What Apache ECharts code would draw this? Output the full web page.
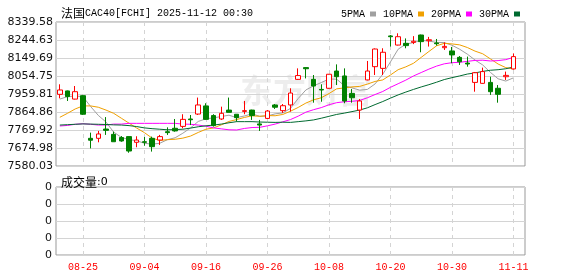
<!DOCTYPE html>
<html><head><meta charset="utf-8">
<script src="https://cdn.jsdelivr.net/npm/echarts@6/dist/echarts.min.js"></script>
<style>html,body{margin:0;padding:0;background:#fff}#c{width:578px;height:276px}</style>
</head><body><div id="c"></div>
<script>
const dates = ['08-20','08-21','08-22','08-25','08-26','08-27','08-28','08-29','09-01','09-02','09-03','09-04','09-05','09-08','09-09','09-10','09-11','09-12','09-15','09-16','09-17','09-18','09-19','09-22','09-23','09-24','09-25','09-26','09-29','09-30','10-01','10-02','10-03','10-06','10-07','10-08','10-09','10-10','10-13','10-14','10-15','10-16','10-17','10-20','10-21','10-22','10-23','10-24','10-27','10-28','10-29','10-30','10-31','11-03','11-04','11-05','11-06','11-07','11-10','11-11','11-12'];
const opens  = [7958,7976,7933,7951,7726,7726,7775,7747,7730,7735,7705,7708,7726,7717,7761,7779,7789,7828,7854,7897,7846,7828,7875,7853,7868,7875,7802,7831,7902,7872,7902,8037,8099,8037,7984,7990,8081,8055,7963,7875,8034,8104,8095,8266,8218,8227,8232,8271,8241,8229,8204,8187,8153,8123,8021,8016,8021,7990,8051,8092];
const closes = [7981,7946,7972,7853,7716,7749,7768,7708,7712,7659,7717,7705,7682,7735,7756,7765,7826,7824,7902,7826,7793,7858,7863,7835,7872,7846,7796,7870,7890,7898,7965,8057,8093,8002,7981,8064,8051,7923,7940,7923,8081,8197,8180,8262,8262,8215,8238,8236,8246,8225,8211,8166,8130,8118,8072,8078,7972,7958,8058,8157];
const lows   = [7937,7923,7931,7849,7673,7705,7744,7708,7708,7650,7679,7687,7656,7691,7744,7761,7779,7796,7849,7823,7788,7823,7863,7814,7853,7823,7765,7828,7881,7860,7867,8034,8042,7914,7919,7988,8007,7911,7914,7828,8032,8060,8060,8210,8216,8201,8223,8180,8210,8215,8192,8122,8113,8104,7972,8014,7955,7914,8034,8089];
const highs  = [8011,7978,8002,7955,7756,7765,7838,7761,7738,7736,7737,7733,7735,7744,7784,7828,7853,7849,7941,7911,7853,7893,7941,7853,7923,7877,7823,7875,7907,7907,7990,8095,8101,8060,8011,8065,8116,8095,7986,7933,8134,8200,8201,8271,8280,8253,8265,8273,8261,8250,8232,8208,8160,8157,8076,8099,8051,8007,8078,8174];
const ma5  = [7933,7946,7949,7946,7894,7847,7812,7759,7731,7719,7713,7700,7695,7700,7719,7729,7753,7781,7815,7829,7834,7841,7848,7835,7844,7855,7842,7844,7855,7860,7884,7936,7981,8003,8020,8039,8038,8004,7992,7980,7984,8013,8064,8129,8196,8223,8231,8243,8239,8232,8231,8217,8196,8170,8139,8113,8074,8040,8028,8045];
const ma10 = [7837,7858,7881,7897,7897,7890,7875,7858,7832,7806,7780,7756,7727,7715,7719,7721,7727,7738,7757,7774,7781,7797,7815,7825,7836,7845,7842,7846,7845,7852,7869,7889,7912,7929,7940,7962,7987,7992,7997,8000,8012,8026,8034,8060,8088,8103,8122,8153,8184,8214,8227,8224,8219,8205,8186,8172,8145,8118,8099,8092];
const ma20 = [7791,7794,7800,7803,7800,7796,7796,7801,7801,7805,7805,7805,7805,7805,7805,7805,7801,7800,7796,7790,7781,7776,7771,7770,7778,7783,7784,7792,7801,7813,7825,7843,7864,7877,7888,7903,7914,7919,7921,7926,7940,7957,7973,7995,8014,8033,8055,8073,8091,8107,8119,8125,8127,8132,8137,8138,8134,8136,8141,8153];
const ma30 = [7796,7798,7800,7802,7801,7800,7799,7797,7796,7793,7788,7781,7777,7774,7771,7772,7774,7780,7787,7792,7796,7801,7808,7814,7814,7814,7812,7811,7810,7811,7810,7814,7818,7823,7832,7842,7852,7859,7867,7875,7887,7904,7920,7938,7955,7970,7984,7997,8009,8022,8036,8046,8055,8065,8071,8079,8085,8088,8093,8102];
const volumes = [0,0,0,0,0,0,0,0,0,0,0,0,0,0,0,0,0,0,0,0,0,0,0,0,0,0,0,0,0,0,0,0,0,0,0,0,0,0,0,0,0,0,0,0,0,0,0,0,0,0,0,0,0,0,0,0,0,0,0,0];
const priceTicks = [7580.03,7674.98,7769.92,7864.86,7959.81,8054.75,8149.69,8244.63,8339.58];
const volTickLabels = ['0','0','0','0','0'];
const maNames = ['5PMA','10PMA','20PMA','30PMA'];
const titleCn = '法国';
const titleRest = 'CAC40[FCHI] 2025-11-12 00:30';
const volCn = '成交量';
const volRest = ':0';

const chart = echarts.init(document.getElementById('c'), null, {renderer:'canvas'});
const maColors = ['#a0a0a0','#f0a000','#ff00ff','#006a30'];
const candleData = opens.map((o,i)=>[o, closes[i], lows[i], highs[i]]);
const labelStep = (idx)=> (idx-3) % 8 === 0;
const gridColor = '#999';
const splitCol = '#d4d4d4';
const mas = [ma5, ma10, ma20, ma30];

chart.setOption({
  animation:false,
  backgroundColor:'#fff',
  title:[
    {text:'{a|'+titleCn+'}{b|'+titleRest+'}', left:56, top:2,
     textStyle:{fontWeight:'normal', rich:{a:{fontFamily:'Noto Sans CJK SC',fontSize:12,fontWeight:'normal',color:'#000'},b:{fontFamily:'Liberation Mono',fontSize:10,fontWeight:'normal',color:'#000'}}}},
    {text:'{a|'+volCn+'}{b|'+volRest+'}', left:56, top:171,
     textStyle:{fontWeight:'normal', rich:{a:{fontFamily:'Noto Sans CJK SC',fontSize:12,fontWeight:'normal',color:'#000'},b:{fontFamily:'DejaVu Sans',fontSize:11,fontWeight:'normal',color:'#000'}}}}
  ],
  legend:{data:maNames, left:336, top:4, align:'right', icon:'rect', itemWidth:6, itemHeight:5, itemGap:7,
    textStyle:{fontFamily:'Liberation Mono',fontSize:10,color:'#000',padding:[0,0,0,0]}, inactiveColor:'#ccc'},
  graphic:[{type:'text', left:240, top:74, z:-1, silent:true,
    style:{text:'东方财富', fontFamily:'Noto Sans CJK SC', fontWeight:'bold', fontSize:33, fill:'rgba(0,0,0,0.07)'}}],
  grid:[
    {left:56, right:53, top:22, height:144, show:true, borderColor:gridColor, borderWidth:1, backgroundColor:'transparent'},
    {left:56, right:53, top:187, height:68, show:true, borderColor:gridColor, borderWidth:1, backgroundColor:'transparent'}
  ],
  xAxis:[
    {type:'category', gridIndex:0, data:dates, boundaryGap:true,
     axisLine:{show:false}, axisTick:{show:false}, axisLabel:{show:false},
     splitLine:{show:true, interval:labelStep, alignWithLabel:true, lineStyle:{color:splitCol, type:[4,4], width:1}}},
    {type:'category', gridIndex:1, data:dates, boundaryGap:true,
     axisLine:{show:false}, axisTick:{show:false},
     axisLabel:{show:true, interval:labelStep, color:'#ff0000', fontFamily:'Liberation Mono', fontSize:10, margin:7},
     splitLine:{show:true, interval:labelStep, alignWithLabel:true, lineStyle:{color:splitCol, type:[4,4], width:1}}}
  ],
  yAxis:[
    {type:'value', gridIndex:0, min:priceTicks[0], max:priceTicks[priceTicks.length-1], scale:true,
     axisLine:{show:false}, axisTick:{show:false, customValues:priceTicks},
     axisLabel:{customValues:priceTicks, formatter:(v)=>v.toFixed(2), color:'#111', fontFamily:'DejaVu Sans', fontSize:11, margin:3},
     splitLine:{show:true, lineStyle:{color:splitCol, width:1}}},
    {type:'value', gridIndex:1, min:0, max:4, interval:1,
     axisLine:{show:false}, axisTick:{show:false},
     axisLabel:{formatter:(v,idx)=>volTickLabels[idx], color:'#111', fontFamily:'DejaVu Sans', fontSize:11, margin:4},
     splitLine:{show:true, lineStyle:{color:splitCol, width:1}}}
  ],
  series:[
    ...maNames.map((n,k)=>({name:n, type:'line', xAxisIndex:0, yAxisIndex:0, data:mas[k], symbol:'none', showSymbol:false,
      lineStyle:{color:maColors[k], width:1}, itemStyle:{color:maColors[k]}, z:2})),
    {name:'K', type:'candlestick', xAxisIndex:0, yAxisIndex:0, data:candleData, barWidth:5, z:3,
     itemStyle:{color:'#ffffff', color0:'#008000', borderColor:'#ff0000', borderColor0:'#008000', borderWidth:1}},
    {name:'VOL', type:'bar', xAxisIndex:1, yAxisIndex:1, data:volumes, barWidth:5, itemStyle:{color:'#008000'}}
  ]
});
</script></body></html>
